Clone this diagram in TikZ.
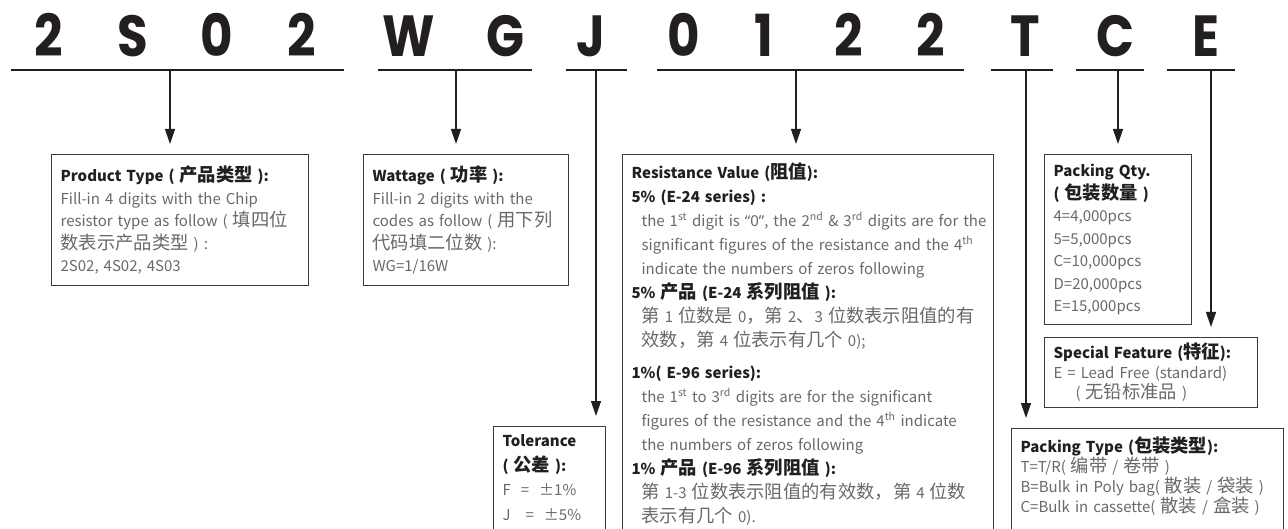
\documentclass[tikz,border=0pt]{standalone}
\usepackage{fontspec}
\usetikzlibrary{arrows.meta}
\setmainfont{Noto Sans CJK SC}
\newfontfamily\cjk{Noto Sans CJK SC}[Scale=1.22]
\newfontfamily\qfont{Noto Sans}
\newfontfamily\codefont{Poppins}[FakeStretch=0.86]
\definecolor{ink}{HTML}{231F20}
\definecolor{body}{HTML}{6A6868}
\definecolor{frame}{HTML}{3E3A39}
\newcommand\hd[1]{{\color{ink}\bfseries #1}}
\newcommand\sx[1]{\textsuperscript{#1}}
\newcommand\zh[1]{{\cjk #1}}
\begin{document}
\begin{tikzpicture}[x=1pt, y=-1pt,
  code/.style = {font=\codefont\bfseries\fontsize{58}{60}\selectfont, text=ink, anchor=base, inner sep=0pt},
  uline/.style = {draw=ink, line width=2.5pt},
  box/.style = {draw=frame, line width=1.2pt, anchor=north west, align=left, inner xsep=9pt, inner ysep=8pt, text=body, font=\fontsize{15}{22.5}\selectfont},
  arr/.style = {-{Triangle[length=15pt, width=10pt]}, draw=ink, line width=1.3pt, shorten >=10pt}]
\useasboundingbox (0,0) rectangle (1288,529);
\clip (0,0) rectangle (1288,529);

% part number
\node[code] (1) at (49,57) {2};
\node[code] (2) at (133,57) {S};
\node[code] (3) at (217,57) {0};
\node[code] (4) at (302,57) {2};
\node[code] (5) at (409,57) {W};
\node[code] (6) at (505,57) {G};
\node[code] (7) at (591,57) {J};
\node[code] (8) at (684,57) {0};
\node[code] (9) at (764,57) {1};
\node[code] (10) at (849,57) {2};
\node[code] (11) at (931,57) {2};
\node[code] (12) at (1025,57) {T};
\node[code] (13) at (1115,57) {C};
\node[code] (14) at (1206,57) {E};

% underlines
\draw[uline] (11,70) -- (344,70);
\draw[uline] (378,70) -- (532,70);
\draw[uline] (566,70) -- (627,70);
\draw[uline] (657,70) -- (964,70);
\draw[uline] (991,70) -- (1053,70);
\draw[uline] (1076,70) -- (1144,70);
\draw[uline] (1167,70) -- (1235,70);
\coordinate (u1) at (170,70);
\coordinate (u2) at (456,70);
\coordinate (u3) at (596,70);
\coordinate (u4) at (796,70);
\coordinate (u5) at (1026,70);
\coordinate (u6) at (1118,70);
\coordinate (u7) at (1211,70);

% boxes
\node[box, text width=239pt, minimum height=131pt] (pt) at (51,154)
  {\hd{Product Type ( \zh{产品类型} ):}\\
   Fill-in 4 digits with the Chip\\
   resistor type as follow ( \zh{填四位}\\
   \zh{数表示产品类型} ) :\\
   2S02, 4S02, 4S03};
\node[box, text width=187pt, minimum height=131pt] (wt) at (363,154)
  {\hd{Wattage ( \zh{功率} ):}\\
   Fill-in 2 digits with the\\
   codes as follow ( \zh{用下列}\\
   \zh{代码填二位数} ):\\
   WG=1/16W};
\node[box, text width=353pt, font=\fontsize{15}{24}\selectfont] (rv) at (622,154)
  {\hd{Resistance Value (\zh{阻值}):}\\
   \hd{5\% (E-24 series) :}\\
   \hspace*{10pt}\mbox{the 1\sx{st} digit is {\qfont “0”}, the 2\sx{nd} \& 3\sx{rd} digits are for the}\\
   \hspace*{10pt}\mbox{significant figures of the resistance and the 4\sx{th}}\\
   \hspace*{10pt}indicate the numbers of zeros following\\
   \hd{5\% \zh{产品} (E-24 \zh{系列阻值} ):}\\
   \hspace*{10pt}\mbox{\zh{第} 1 \zh{位数是} 0\zh{，第} 2\zh{、}3 \zh{位数表示阻值的有}}\\
   \hspace*{10pt}\zh{效数，第} 4 \zh{位表示有几个} 0);\\[8pt]
   \hd{1\%( E-96 series):}\\
   \hspace*{10pt}\mbox{the 1\sx{st} to 3\sx{rd} digits are for the significant}\\
   \hspace*{10pt}\mbox{figures of the resistance and the 4\sx{th} indicate}\\
   \hspace*{10pt}the numbers of zeros following\\
   \hd{1\% \zh{产品} (E-96 \zh{系列阻值} ):}\\
   \hspace*{10pt}\mbox{\zh{第} 1-3 \zh{位数表示阻值的有效数，第} 4 \zh{位数}}\\
   \hspace*{10pt}\zh{表示有几个} 0).\\[30pt]\mbox{}};
\node[box, text width=94pt, font=\fontsize{15}{24.5}\selectfont] (tol) at (493,426)
  {\hd{Tolerance}\\
   \hd{( \zh{公差} ):}\\
   F\ \ =\ \ ±1\%\\
   J\ \ \ =\ \ ±5\%\\[30pt]\mbox{}};
\node[box, text width=129pt, minimum height=170pt] (qty) at (1044,154)
  {\hd{Packing Qty.}\\
   \hd{( \zh{包装数量} )}\\
   4=4,000pcs\\
   5=5,000pcs\\
   C=10,000pcs\\
   D=20,000pcs\\
   E=15,000pcs};
\node[box, text width=195pt, minimum height=70pt, inner ysep=5pt, font=\fontsize{15}{20}\selectfont] (sf) at (1044,337)
  {\hd{Special Feature (\zh{特征}):}\\
   E = Lead Free (standard)\\
   \hspace*{22pt}( \zh{无铅标准品} )};
\node[box, text width=254pt, font=\fontsize{15}{20}\selectfont] (ptype) at (1011,428)
  {\hd{Packing Type (\zh{包装类型}):}\\
   T=T/R( \zh{编带} / \zh{卷带} )\\
   B=Bulk in Poly bag( \zh{散装} / \zh{袋装} )\\
   C=Bulk in cassette( \zh{散装} / \zh{盒装} )\\[30pt]\mbox{}};

% arrows
\draw[arr] (u1) -- (u1 |- pt.north);
\draw[arr] (u2) -- (u2 |- wt.north);
\draw[arr] (u3) -- (u3 |- tol.north);
\draw[arr] (u4) -- (u4 |- rv.north);
\draw[arr] (u5) -- (u5 |- ptype.north);
\draw[arr] (u6) -- (u6 |- qty.north);
\draw[arr] (u7) -- (u7 |- sf.north);
\end{tikzpicture}
\end{document}
